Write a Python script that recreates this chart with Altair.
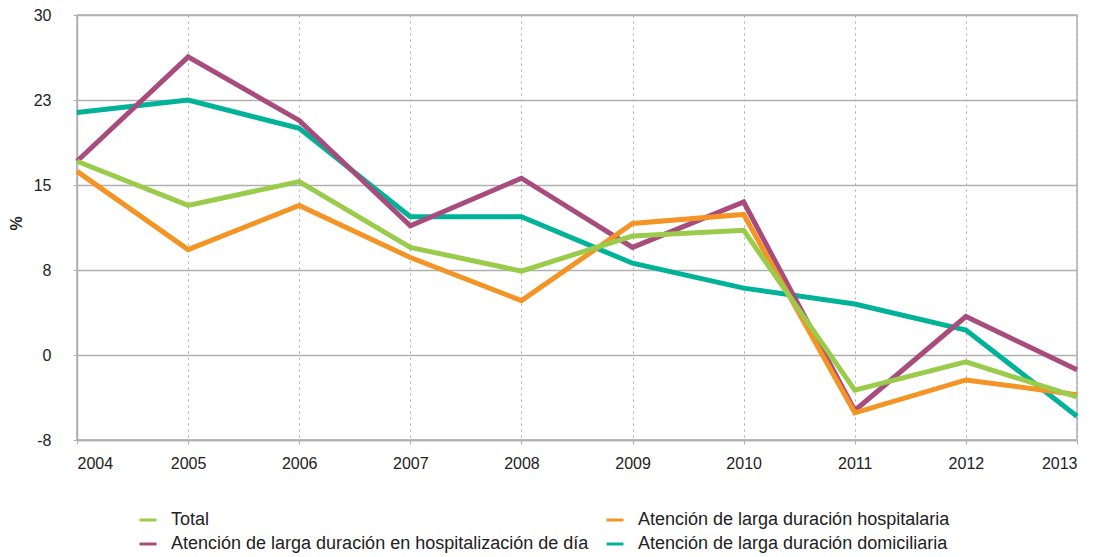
import altair as alt
import pandas as pd

years = [2004, 2005, 2006, 2007, 2008, 2009, 2010, 2011, 2012, 2013]
total = [17.1, 13.2, 15.3, 9.5, 7.4, 10.5, 11.0, -3.1, -0.6, -3.7]
hospitalaria = [16.2, 9.3, 13.2, 8.6, 4.8, 11.6, 12.4, -5.1, -2.2, -3.5]
dia = [17.1, 26.3, 20.7, 11.4, 15.6, 9.5, 13.5, -4.9, 3.4, -1.3]
domiciliaria = [21.4, 22.5, 20.0, 12.2, 12.2, 8.1, 5.9, 4.5, 2.2, -5.4]

n_total = "Total"
n_hosp = "Atención de larga duración hospitalaria"
n_dia = "Atención de larga duración en hospitalización de día"
n_dom = "Atención de larga duración domiciliaria"

# legend fills column by column: col 1 = Total, día ; col 2 = hospitalaria, domiciliaria
legend_order = [n_total, n_dia, n_hosp, n_dom]
legend_colors = ["#9BCB4B", "#A84C7D", "#F39424", "#00B398"]
y_ticks = [-7.5, 0, 7.5, 15, 22.5, 30]

rows = []
for name, vals in [(n_total, total), (n_hosp, hospitalaria), (n_dia, dia), (n_dom, domiciliaria)]:
    for yr, v in zip(years, vals):
        rows.append({"year": yr, "value": v, "serie": name})
df = pd.DataFrame(rows)

color = alt.Color(
    "serie:N",
    scale=alt.Scale(domain=legend_order, range=legend_colors),
    sort=legend_order,
    legend=alt.Legend(
        title=None,
        orient="none",
        legendX=61,
        legendY=495,
        columns=2,
        symbolType="stroke",
        symbolSize=289,
        symbolStrokeWidth=3,
        labelFontSize=18,
        labelFont="Liberation Sans",
        labelColor="#222222",
        labelOffset=13,
        labelLimit=0,
        columnPadding=11,
        rowPadding=5,
        padding=0,
    ),
)

x = alt.X(
    "year:Q",
    scale=alt.Scale(domain=[2004, 2013], nice=False, zero=False),
    axis=alt.Axis(
        title=None,
        values=years,
        format="d",
        grid=True,
        gridColor="#ababab",
        gridDash=[2, 4],
        gridWidth=1,
        domainColor="#b0b0b0",
        domainWidth=1.5,
        tickColor="#b0b0b0",
        tickSize=4,
        labelPadding=11,
        labelFontSize=16,
        labelFont="Liberation Sans",
        labelColor="#222222",
    ),
)

y = alt.Y(
    "value:Q",
    scale=alt.Scale(domain=[-7.5, 30], nice=False, zero=False),
    axis=alt.Axis(
        title="%",
        titleFontSize=16,
        titleFont="Liberation Sans",
        titleFontWeight="bold",
        titleColor="#222222",
        titleX=-60.5,
        titleY=208,
        titleBaseline="middle",
        values=y_ticks,
        labelExpr="datum.value < 0 ? '-' + format(-datum.value, '.0f') : format(datum.value, '.0f')",
        grid=True,
        gridColor="#b0b0b0",
        gridWidth=1.5,
        domainColor="#b0b0b0",
        domainWidth=1.5,
        tickColor="#b0b0b0",
        tickSize=4,
        labelPadding=22,
        labelFontSize=16,
        labelFont="Liberation Sans",
        labelColor="#222222",
    ),
)

draw_order = [n_dom, n_dia, n_hosp, n_total]
layers = []
for nm in draw_order:
    layers.append(
        alt.Chart(df)
        .transform_filter(alt.datum.serie == nm)
        .mark_line(strokeWidth=5, strokeJoin="miter")
        .encode(x=x, y=y, color=color)
    )

chart = (
    alt.layer(*layers)
    .properties(
        width=1000,
        height=425,
        padding={"left": 69, "top": 7, "right": 12, "bottom": 116},
        autosize=alt.AutoSizeParams(type="none"),
    )
    .configure_view(stroke="#b0b0b0", strokeWidth=1.5)
)

chart.save("out.html", embed_options={"renderer": "svg", "actions": False})
